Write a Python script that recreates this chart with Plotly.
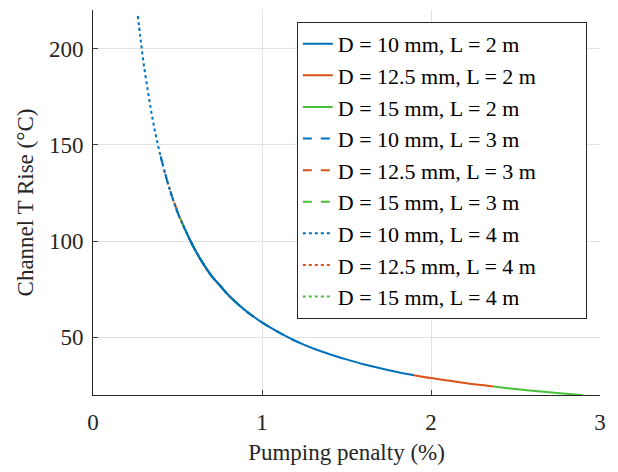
import plotly.graph_objects as go

# Pumping penalty (%) and channel temperature rise (°C)
p_d10_l2 = [0.55, 0.60, 0.65, 0.70, 0.75, 0.80, 0.90, 1.00, 1.10, 1.20, 1.30, 1.40, 1.50, 1.60, 1.70, 1.80, 1.90]
t_d10_l2 = [105, 96, 88.5, 82, 77, 72, 64, 57.7, 52.5, 48, 44.3, 41.2, 38.5, 36, 33.9, 32, 30.3]
p_d125_l2 = [1.90, 2.00, 2.10, 2.20, 2.37]
t_d125_l2 = [30.3, 28.8, 27.5, 26.2, 24.4]
p_d15_l2 = [2.37, 2.50, 2.60, 2.70, 2.80, 2.90]
t_d15_l2 = [24.4, 23.1, 22.2, 21.4, 20.6, 19.9]

p_d10_l3 = [0.40, 0.45, 0.50, 0.55, 0.60, 0.65, 0.70, 0.75, 0.80, 0.90, 1.00, 1.10, 1.20, 1.27]
t_d10_l3 = [144, 128, 115, 105, 96, 88.5, 82, 77, 72, 64, 57.7, 52.5, 48, 45.5]
p_d125_l3 = [0.48, 0.55, 0.60, 0.65, 0.70, 0.75, 0.80, 0.85]
t_d125_l3 = [120, 105, 96, 88.5, 82, 77, 72, 67.8]
p_d15_l3 = [0.58, 0.65, 0.70, 0.75, 0.80, 0.90, 1.00, 1.10]
t_d15_l3 = [99.5, 88.5, 82, 77, 72, 64, 57.7, 52.5]

p_d10_l4 = [0.265, 0.28, 0.30, 0.33, 0.36, 0.40, 0.45, 0.50, 0.55, 0.60, 0.65, 0.70, 0.75, 0.80, 0.90, 0.95]
t_d10_l4 = [217, 206, 192, 175, 160, 144, 128, 115, 105, 96, 88.5, 82, 77, 72, 64, 60.8]
p_d125_l4 = [0.42, 0.45, 0.50, 0.55, 0.60, 0.65, 0.70, 0.75]
t_d125_l4 = [137, 128, 115, 105, 96, 88.5, 82, 77]
p_d15_l4 = [0.50, 0.55, 0.60, 0.65, 0.70, 0.75, 0.80, 0.90]
t_d15_l4 = [115, 105, 96, 88.5, 82, 77, 72, 64]

x_ticks = [0, 1, 2, 3]
y_ticks = [50, 100, 150, 200]

BLUE = "#0072BD"
ORANGE = "#D95319"
GREEN = "#47c03a"

series = [
    # (name, x, y, color, dash, legend rank, draw order)
    ("D = 10 mm, L = 2 m", p_d10_l2, t_d10_l2, BLUE, "solid", 1, 7),
    ("D = 12.5 mm, L = 2 m", p_d125_l2, t_d125_l2, ORANGE, "solid", 2, 8),
    ("D = 15 mm, L = 2 m", p_d15_l2, t_d15_l2, GREEN, "solid", 3, 9),
    ("D = 10 mm, L = 3 m", p_d10_l3, t_d10_l3, BLUE, "dash", 4, 6),
    ("D = 12.5 mm, L = 3 m", p_d125_l3, t_d125_l3, ORANGE, "dash", 5, 1),
    ("D = 15 mm, L = 3 m", p_d15_l3, t_d15_l3, GREEN, "dash", 6, 2),
    ("D = 10 mm, L = 4 m", p_d10_l4, t_d10_l4, BLUE, "dot", 7, 5),
    ("D = 12.5 mm, L = 4 m", p_d125_l4, t_d125_l4, ORANGE, "dot", 8, 3),
    ("D = 15 mm, L = 4 m", p_d15_l4, t_d15_l4, GREEN, "dot", 9, 4),
]

PAD = "\u00a0" * 8  # widens the legend box to the reference width

fig = go.Figure()
for name, x, y, c, d, rank, order in sorted(series, key=lambda s: s[6]):
    fig.add_trace(go.Scatter(
        x=x, y=y, mode="lines", name=name + PAD,
        line=dict(color=c, width=2, dash=d, shape="spline"),
        legendrank=rank, legendgroup=name,
    ))

FONT = "Liberation Serif, Times New Roman, serif"
fig.update_layout(
    width=618, height=472,
    margin=dict(l=93, r=18, t=10, b=77),
    paper_bgcolor="white", plot_bgcolor="white",
    font=dict(family=FONT, size=23, color="#262626"),
    showlegend=True,
    legend=dict(
        x=0.402, y=0.969, xanchor="left", yanchor="top",
        bgcolor="white", bordercolor="#262626", borderwidth=1,
        font=dict(family=FONT, size=22, color="#000000"),
        tracegroupgap=0, traceorder="grouped",
        itemwidth=30,
    ),
    xaxis=dict(
        range=[0, 3], tickvals=x_ticks, ticks="inside", ticklen=5,
        showline=True, linecolor="#262626", linewidth=1,
        showgrid=True, gridcolor="#e3e3e3", gridwidth=1, zeroline=False,
        title=dict(text="Pumping penalty (%)", font=dict(size=23), standoff=10),
        tickfont=dict(size=23), ticklabelstandoff=6,
    ),
    yaxis=dict(
        range=[20, 220], tickvals=y_ticks, ticks="inside", ticklen=5,
        showline=True, linecolor="#262626", linewidth=1,
        showgrid=True, gridcolor="#e3e3e3", gridwidth=1, zeroline=False,
        title=dict(text="Channel T Rise (°C)", font=dict(size=23), standoff=8),
        tickfont=dict(size=23), ticklabelstandoff=4,
    ),
)

fig.write_html("out.html")
